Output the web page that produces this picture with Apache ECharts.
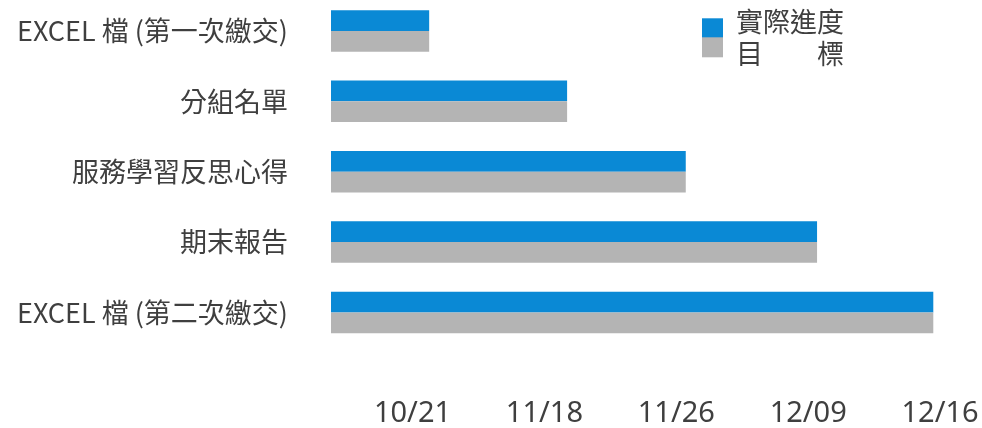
<!DOCTYPE html>
<html>
<head>
<meta charset="utf-8">
<script src="https://cdn.jsdelivr.net/npm/echarts@6/dist/echarts.min.js"></script>
<style>
html,body{margin:0;padding:0;background:#fff;}
#chart{width:982px;height:428px;}
</style>
</head>
<body>
<div id="chart"></div>
<script>
const categories = ['EXCEL 檔 (第一次繳交)', '分組名單', '服務學習反思心得', '期末報告', 'EXCEL 檔 (第二次繳交)'];
const actualProgress = [16.3, 39.2, 58.9, 80.7, 100];
const targetProgress = [16.3, 39.2, 58.9, 80.7, 100];
const tickLabels = ['10/21', '11/18', '11/26', '12/09', '12/16'];
const seriesNames = ['實際進度', '目　　標'];

const textColor = '#3f3f3f';
const cjkFont = '"Noto Sans CJK TC", "Noto Sans", sans-serif';

const chart = echarts.init(document.getElementById('chart'), null, {renderer: 'canvas'});
chart.setOption({
  animation: false,
  backgroundColor: '#ffffff',
  color: ['#0A89D5', '#B4B4B4'],
  legend: [
    {
      data: [seriesNames[0]],
      left: 702, top: 7.8, padding: 0,
      icon: 'rect', itemWidth: 21, itemHeight: 20,
      selectedMode: false,
      formatter: function (name) { return '{t|' + name + '}\n{s| }'; },
      textStyle: {
        fontSize: 27, color: textColor, fontFamily: cjkFont,
        rich: {
          t: {fontSize: 27, lineHeight: 27, color: textColor, fontFamily: cjkFont, padding: [0, 0, 0, 8]},
          s: {fontSize: 4, lineHeight: 14}
        }
      }
    },
    {
      data: [seriesNames[1]],
      left: 702, top: 31.8, padding: 0,
      icon: 'rect', itemWidth: 21, itemHeight: 20,
      selectedMode: false,
      formatter: function (name) { return '{s| }\n{t|' + name + '}'; },
      textStyle: {
        fontSize: 27, color: textColor, fontFamily: cjkFont,
        rich: {
          t: {fontSize: 27, lineHeight: 27, color: textColor, fontFamily: cjkFont, padding: [0, 0, 0, 8]},
          s: {fontSize: 4, lineHeight: 12}
        }
      }
    }
  ],
  grid: [
    {left: 331, right: 48.7, top: -4.3, bottom: 80.3, containLabel: false, outerBoundsMode: 'none'},
    {left: 280.6, right: 41.9, top: 370, bottom: 36, containLabel: false, outerBoundsMode: 'none'}
  ],
  xAxis: [
    {type: 'value', gridIndex: 0, min: 0, max: 100, show: false},
    {
      type: 'value', gridIndex: 1, min: 0, max: 5, interval: 1,
      axisLine: {show: false}, axisTick: {show: false}, splitLine: {show: false},
      axisLabel: {
        margin: 7, fontSize: 29, color: textColor, fontFamily: '"Noto Sans", sans-serif',
        formatter: function (v) { return v >= 1 ? tickLabels[Math.round(v) - 1] : ''; }
      }
    }
  ],
  yAxis: [
    {
      type: 'category', gridIndex: 0, data: categories, inverse: true,
      axisLine: {show: false}, axisTick: {show: false}, splitLine: {show: false},
      axisLabel: {margin: 43, fontSize: 27, color: textColor, fontFamily: cjkFont}
    },
    {type: 'value', gridIndex: 1, show: false}
  ],
  series: [
    {
      name: seriesNames[0], type: 'bar', xAxisIndex: 0, yAxisIndex: 0,
      data: actualProgress, barGap: '0%', barCategoryGap: '41%'
    },
    {
      name: seriesNames[1], type: 'bar', xAxisIndex: 0, yAxisIndex: 0,
      data: targetProgress, barGap: '0%', barCategoryGap: '41%'
    }
  ]
});
</script>
</body>
</html>
